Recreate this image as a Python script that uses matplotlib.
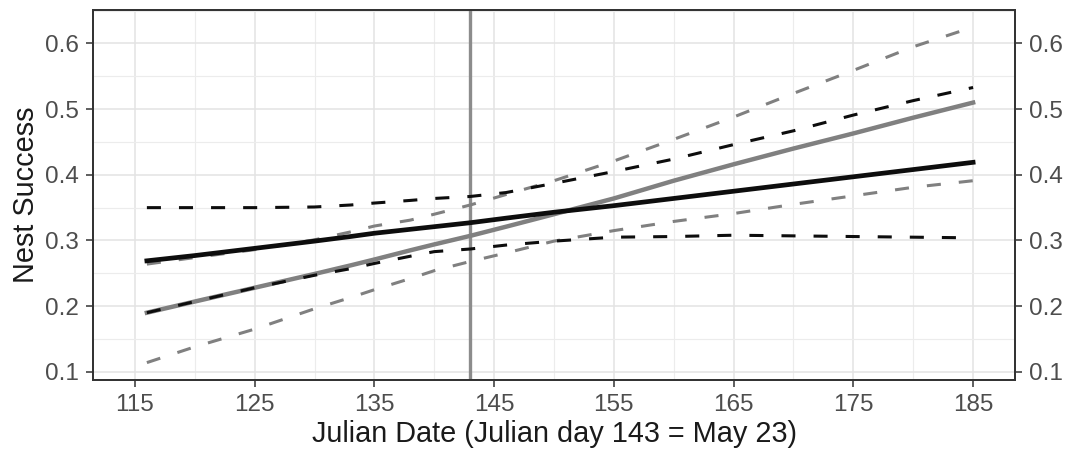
import matplotlib
matplotlib.use("Agg")
import matplotlib.pyplot as plt
from matplotlib.ticker import MultipleLocator

plt.rcParams['font.family'] = ['Liberation Sans', 'DejaVu Sans']

# Julian dates at which the predictions are shown
days = [116, 120, 125, 130, 133, 135, 138, 140, 143, 146, 150, 155, 160, 165, 170, 175, 180, 185]

# Model A (black): estimate with lower / upper confidence limits
black_fit = [0.269, 0.277, 0.288, 0.299, 0.306, 0.311, 0.317, 0.321, 0.327, 0.334, 0.343,
             0.353, 0.364, 0.375, 0.386, 0.397, 0.408, 0.419]
black_lo = [0.190, 0.207, 0.228, 0.247, 0.257, 0.265, 0.276, 0.283, 0.287, 0.293, 0.299,
            0.305, 0.306, 0.308, 0.307, 0.306, 0.305, 0.304]
black_hi = [0.350, 0.350, 0.350, 0.351, 0.354, 0.357, 0.361, 0.364, 0.367, 0.373, 0.387,
            0.405, 0.424, 0.446, 0.467, 0.491, 0.513, 0.533]

# Model B (grey): estimate with lower / upper confidence limits
grey_fit = [0.190, 0.207, 0.228, 0.249, 0.262, 0.271, 0.285, 0.294, 0.307, 0.321, 0.340,
            0.364, 0.391, 0.416, 0.440, 0.463, 0.487, 0.510]
grey_lo = [0.114, 0.138, 0.165, 0.196, 0.213, 0.225, 0.242, 0.254, 0.268, 0.281, 0.299,
           0.315, 0.329, 0.341, 0.355, 0.368, 0.381, 0.391]
grey_hi = [0.264, 0.274, 0.286, 0.301, 0.313, 0.322, 0.331, 0.340, 0.354, 0.370, 0.391,
           0.421, 0.454, 0.488, 0.524, 0.559, 0.595, 0.625]

reference_day = 143

x_ticks = [115, 125, 135, 145, 155, 165, 175, 185]
y_ticks = [0.1, 0.2, 0.3, 0.4, 0.5, 0.6]

W, H = 1067, 461
fig = plt.figure(figsize=(W / 100, H / 100), dpi=100)
ax = fig.add_axes([93 / W, 1 - 380 / H, (1015 - 93) / W, (380 - 10) / H])

black = '#0d0d0d'
grey = '#808080'
dash = (0, (4.6, 5.9))

ax.axvline(reference_day, color='#8c8c8c', lw=2.4, zorder=2)

ax.plot(days, grey_lo, color=grey, lw=2.2, ls=dash, zorder=3)
ax.plot(days, grey_hi, color=grey, lw=2.2, ls=dash, zorder=3)
ax.plot(days, grey_fit, color=grey, lw=3.2, zorder=4)
ax.plot(days, black_lo, color=black, lw=2.2, ls=dash, zorder=5)
ax.plot(days, black_hi, color=black, lw=2.2, ls=dash, zorder=5)
ax.plot(days, black_fit, color=black, lw=3.4, zorder=6)

ax.set_xlim(111.5, 188.5)
ax.set_ylim(0.0875, 0.651)
ax.set_xticks(x_ticks)
ax.set_xticklabels([str(v) for v in x_ticks])
ax.set_yticks(y_ticks)
ax.set_yticklabels([f"{v:.1f}" for v in y_ticks])
ax.xaxis.set_minor_locator(MultipleLocator(5))
ax.yaxis.set_minor_locator(MultipleLocator(0.05))

ax.grid(which='major', color='#e3e3e3', lw=1.1, zorder=0)
ax.grid(which='minor', color='#ececec', lw=0.8, zorder=0)
ax.set_axisbelow(True)

for s in ax.spines.values():
    s.set_color('#333333')
    s.set_linewidth(1.3)

tick_kw = dict(length=5, width=1.1, color='#333333', labelcolor='#4d4d4d',
               labelsize=17.5, pad=5)
ax.tick_params(axis='both', which='major', **tick_kw)
ax.tick_params(axis='both', which='minor', length=0)

# Same scale repeated on the right-hand side
ax2 = ax.twinx()
ax2.set_ylim(ax.get_ylim())
ax2.set_yticks(y_ticks)
ax2.set_yticklabels([f"{v:.1f}" for v in y_ticks])
ax2.tick_params(axis='y', which='major', **tick_kw)
for s in ax2.spines.values():
    s.set_color('#333333')
    s.set_linewidth(1.3)

ax.set_xlabel('Julian Date (Julian day 143 = May 23)', fontsize=20.8, color='#1a1a1a', labelpad=3)
ax.set_ylabel('Nest Success', fontsize=20.8, color='#1a1a1a', labelpad=4)

fig.savefig('out.png', dpi=100)
